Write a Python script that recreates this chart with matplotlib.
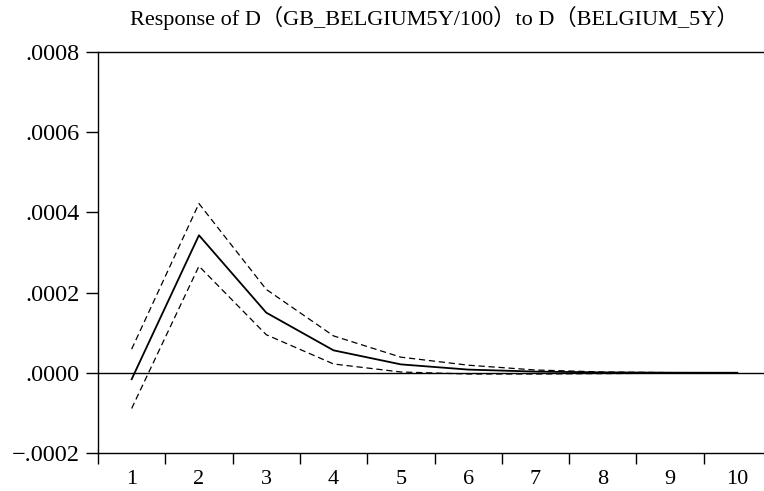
import matplotlib
matplotlib.use("Agg")
import matplotlib.pyplot as plt
from matplotlib.ticker import FixedLocator, NullFormatter, FixedFormatter

periods = [1, 2, 3, 4, 5, 6, 7, 8, 9, 10]
response = [-0.000016, 0.000343, 0.000150, 0.000056, 0.000021, 0.000008, 0.000003, 0.000001, 0.0000003, 0.0000001]
upper = [0.000059, 0.000422, 0.000208, 0.000092, 0.000039, 0.000019, 0.000007, 0.000002, 0.0000005, 0.0000002]
lower = [-0.000089, 0.000266, 0.000095, 0.000022, 0.000002, -0.000003, -0.000003, -0.000002, -0.000001, -0.0000005]
ytick_vals = [-0.0002, 0.0, 0.0002, 0.0004, 0.0006, 0.0008]
ytick_labels = ["\u2212.0002", ".0000", ".0002", ".0004", ".0006", ".0008"]
title = "Response of D\uff08GB_BELGIUM5Y/100\uff09to D\uff08BELGIUM_5Y\uff09"

plt.rcParams['font.family'] = ['Liberation Serif', 'Noto Sans CJK JP', 'DejaVu Sans']

fig = plt.figure(figsize=(7.64, 4.91), dpi=100)
ax = fig.add_axes([98/764, 38/491, 673/764, 401/491])

ax.plot(periods, upper, color='black', lw=0.9, linestyle=(0, (5, 3)))
ax.plot(periods, lower, color='black', lw=0.9, linestyle=(0, (5, 3)))
ax.plot(periods, response, color='black', lw=1.3)
ax.axhline(0, color='black', lw=1.0)

ax.set_xlim(0.5, 10.5)
ax.set_ylim(-0.0002, 0.0008)

ax.xaxis.set_major_locator(FixedLocator([p - 0.5 for p in periods] + [10.5]))
ax.xaxis.set_major_formatter(NullFormatter())
ax.xaxis.set_minor_locator(FixedLocator(periods))
ax.xaxis.set_minor_formatter(FixedFormatter([str(p) for p in periods]))
ax.tick_params(axis='x', which='major', direction='out', length=8, width=1)
ax.tick_params(axis='x', which='minor', length=0, pad=12, labelsize=16)

ax.set_yticks(ytick_vals)
ax.set_yticklabels(ytick_labels)
ax.tick_params(axis='y', direction='out', length=9, width=1, pad=4, labelsize=17.5)

for s in ax.spines.values():
    s.set_linewidth(1.0)

fig.text((98 + 771) / 2 / 764, 1 - 18/491, title, ha='center', va='center', fontsize=16)

fig.savefig("out.png", dpi=100)
